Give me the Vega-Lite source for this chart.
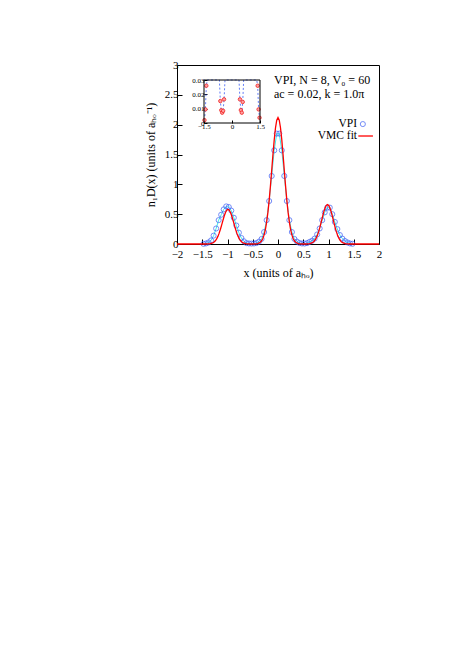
{
  "$schema": "https://vega.github.io/schema/vega-lite/v6.json",
  "width": 202,
  "height": 179,
  "autosize": "none",
  "padding": {"left": 177, "top": 65, "right": 84, "bottom": 412},
  "background": "white",
  "config": {
    "view": {"stroke": "black", "strokeWidth": 1},
    "font": "Liberation Serif",
    "axis": {"labelFont": "Liberation Serif", "titleFont": "Liberation Serif", "labelColor": "black", "titleColor": "black", "tickColor": "black", "titleFontWeight": "normal", "grid": false, "domain": false},
    "text": {"font": "Liberation Serif", "fontSize": 12, "color": "black"}
  },
  "datasets": {
    "vpi": [
      {"x": -1.475, "n": 0.002}, {"x": -1.425, "n": 0.0095}, {"x": -1.375, "n": 0.026}, {"x": -1.325, "n": 0.06},
      {"x": -1.275, "n": 0.14}, {"x": -1.225, "n": 0.26}, {"x": -1.175, "n": 0.40}, {"x": -1.125, "n": 0.49},
      {"x": -1.075, "n": 0.58}, {"x": -1.025, "n": 0.63}, {"x": -0.975, "n": 0.62}, {"x": -0.925, "n": 0.56},
      {"x": -0.875, "n": 0.44}, {"x": -0.825, "n": 0.31}, {"x": -0.775, "n": 0.19}, {"x": -0.725, "n": 0.10},
      {"x": -0.675, "n": 0.045}, {"x": -0.625, "n": 0.0153}, {"x": -0.575, "n": 0.0089}, {"x": -0.525, "n": 0.0072},
      {"x": -0.475, "n": 0.0085}, {"x": -0.425, "n": 0.0165}, {"x": -0.375, "n": 0.04}, {"x": -0.325, "n": 0.085},
      {"x": -0.275, "n": 0.20}, {"x": -0.225, "n": 0.40}, {"x": -0.175, "n": 0.72}, {"x": -0.125, "n": 1.14},
      {"x": -0.075, "n": 1.57}, {"x": -0.025, "n": 1.85}, {"x": 0.025, "n": 1.85}, {"x": 0.075, "n": 1.57},
      {"x": 0.125, "n": 1.14}, {"x": 0.175, "n": 0.72}, {"x": 0.225, "n": 0.40}, {"x": 0.275, "n": 0.20},
      {"x": 0.325, "n": 0.085}, {"x": 0.375, "n": 0.04}, {"x": 0.425, "n": 0.0165}, {"x": 0.475, "n": 0.009},
      {"x": 0.525, "n": 0.0072}, {"x": 0.575, "n": 0.0147}, {"x": 0.625, "n": 0.035}, {"x": 0.675, "n": 0.055},
      {"x": 0.725, "n": 0.09}, {"x": 0.775, "n": 0.16}, {"x": 0.825, "n": 0.26}, {"x": 0.875, "n": 0.40},
      {"x": 0.925, "n": 0.53}, {"x": 0.975, "n": 0.61}, {"x": 1.025, "n": 0.61}, {"x": 1.075, "n": 0.50},
      {"x": 1.125, "n": 0.37}, {"x": 1.175, "n": 0.25}, {"x": 1.225, "n": 0.15}, {"x": 1.275, "n": 0.09},
      {"x": 1.325, "n": 0.05}, {"x": 1.375, "n": 0.026}, {"x": 1.425, "n": 0.0095}, {"x": 1.475, "n": 0.0037}
    ],
    "vmc": [
      {"x": -2, "n": 0}, {"x": -1.6, "n": 0}, {"x": -1.5, "n": 0}, {"x": -1.44, "n": 0.0003}, {"x": -1.39, "n": 0.0014},
      {"x": -1.34, "n": 0.0057}, {"x": -1.29, "n": 0.0193}, {"x": -1.265, "n": 0.0332}, {"x": -1.24, "n": 0.0546},
      {"x": -1.215, "n": 0.0856}, {"x": -1.19, "n": 0.128}, {"x": -1.165, "n": 0.182}, {"x": -1.14, "n": 0.248},
      {"x": -1.115, "n": 0.321}, {"x": -1.09, "n": 0.397}, {"x": -1.065, "n": 0.469}, {"x": -1.04, "n": 0.528},
      {"x": -1.015, "n": 0.566}, {"x": -0.99, "n": 0.58}, {"x": -0.965, "n": 0.566}, {"x": -0.94, "n": 0.528},
      {"x": -0.915, "n": 0.469}, {"x": -0.89, "n": 0.397}, {"x": -0.865, "n": 0.321}, {"x": -0.84, "n": 0.248},
      {"x": -0.815, "n": 0.182}, {"x": -0.79, "n": 0.128}, {"x": -0.765, "n": 0.0856}, {"x": -0.74, "n": 0.0546},
      {"x": -0.715, "n": 0.0332}, {"x": -0.69, "n": 0.0193}, {"x": -0.64, "n": 0.0057}, {"x": -0.59, "n": 0.0014},
      {"x": -0.54, "n": 0.0003}, {"x": -0.45, "n": 0.002}, {"x": -0.4, "n": 0.008}, {"x": -0.35, "n": 0.030},
      {"x": -0.325, "n": 0.054}, {"x": -0.3, "n": 0.093}, {"x": -0.275, "n": 0.153}, {"x": -0.25, "n": 0.242},
      {"x": -0.225, "n": 0.366}, {"x": -0.2, "n": 0.529}, {"x": -0.175, "n": 0.732}, {"x": -0.15, "n": 0.971},
      {"x": -0.125, "n": 1.232}, {"x": -0.1, "n": 1.498}, {"x": -0.075, "n": 1.744}, {"x": -0.05, "n": 1.944},
      {"x": -0.025, "n": 2.074}, {"x": 0, "n": 2.12}, {"x": 0.025, "n": 2.074}, {"x": 0.05, "n": 1.944},
      {"x": 0.075, "n": 1.744}, {"x": 0.1, "n": 1.498}, {"x": 0.125, "n": 1.232}, {"x": 0.15, "n": 0.971},
      {"x": 0.175, "n": 0.732}, {"x": 0.2, "n": 0.529}, {"x": 0.225, "n": 0.366}, {"x": 0.25, "n": 0.242},
      {"x": 0.275, "n": 0.153}, {"x": 0.3, "n": 0.093}, {"x": 0.325, "n": 0.054}, {"x": 0.35, "n": 0.030},
      {"x": 0.4, "n": 0.008}, {"x": 0.45, "n": 0.002}, {"x": 0.53, "n": 0.0002}, {"x": 0.58, "n": 0.0016},
      {"x": 0.63, "n": 0.0064}, {"x": 0.68, "n": 0.022}, {"x": 0.705, "n": 0.0378}, {"x": 0.73, "n": 0.0621},
      {"x": 0.755, "n": 0.0974}, {"x": 0.78, "n": 0.145}, {"x": 0.805, "n": 0.207}, {"x": 0.83, "n": 0.282},
      {"x": 0.855, "n": 0.366}, {"x": 0.88, "n": 0.452}, {"x": 0.905, "n": 0.534}, {"x": 0.93, "n": 0.600},
      {"x": 0.955, "n": 0.645}, {"x": 0.98, "n": 0.66}, {"x": 1.005, "n": 0.645}, {"x": 1.03, "n": 0.600},
      {"x": 1.055, "n": 0.534}, {"x": 1.08, "n": 0.452}, {"x": 1.105, "n": 0.366}, {"x": 1.13, "n": 0.282},
      {"x": 1.155, "n": 0.207}, {"x": 1.18, "n": 0.145}, {"x": 1.205, "n": 0.0974}, {"x": 1.23, "n": 0.0621},
      {"x": 1.255, "n": 0.0378}, {"x": 1.28, "n": 0.022}, {"x": 1.33, "n": 0.0064}, {"x": 1.38, "n": 0.0016},
      {"x": 1.43, "n": 0.0002}, {"x": 1.5, "n": 0}, {"x": 1.6, "n": 0}, {"x": 2, "n": 0}
    ]
  },
  "layer": [
    {
      "encoding": {
        "x": {"type": "quantitative", "scale": {"domain": [-2, 2], "zero": false, "nice": false},
          "axis": {"values": [-2, -1.5, -1, -0.5, 0, 0.5, 1, 1.5, 2], "format": "~g", "tickSize": -5, "labelPadding": 9, "labelFontSize": 11, "labelOverlap": false, "labelFlush": false, "title": "x (units of aₕₒ)", "titleFontSize": 12, "titlePadding": 8}},
        "y": {"type": "quantitative", "scale": {"domain": [0, 3], "nice": false},
          "axis": {"values": [0, 0.5, 1, 1.5, 2, 2.5, 3], "format": "~g", "tickSize": -5, "labelPadding": 4, "labelFontSize": 11, "labelOverlap": false, "title": "n₁D(x) (units of aₕₒ⁻¹)", "titleFontSize": 12, "titlePadding": 7}}
      },
      "layer": [
        {
          "data": {"name": "vpi"},
          "mark": {"type": "line", "color": "#40e8e8", "strokeWidth": 1},
          "encoding": {"x": {"field": "x"}, "y": {"field": "n"}}
        },
        {
          "data": {"name": "vpi"},
          "mark": {"type": "point", "shape": "circle", "filled": false, "color": "#3a5cf5", "size": 26, "strokeWidth": 1},
          "encoding": {"x": {"field": "x"}, "y": {"field": "n"}}
        },
        {
          "data": {"name": "vmc"},
          "mark": {"type": "line", "color": "#ff0000", "strokeWidth": 1.3},
          "encoding": {"x": {"field": "x"}, "y": {"field": "n"}}
        },
        {
          "data": {"values": [{}]},
          "mark": {"type": "text", "align": "left", "baseline": "middle"},
          "encoding": {"x": {"datum": -0.08}, "y": {"datum": 2.75}, "text": {"value": "VPI, N = 8, V₀ = 60"}}
        },
        {
          "data": {"values": [{}]},
          "mark": {"type": "text", "align": "left", "baseline": "middle"},
          "encoding": {"x": {"datum": -0.08}, "y": {"datum": 2.51}, "text": {"value": "ac = 0.02, k = 1.0π"}}
        },
        {
          "data": {"values": [{}]},
          "mark": {"type": "text", "align": "right", "baseline": "middle", "fontSize": 11.5},
          "encoding": {"x": {"datum": 1.565}, "y": {"datum": 2.01}, "text": {"value": "VPI"}}
        },
        {
          "data": {"values": [{}]},
          "mark": {"type": "point", "shape": "circle", "filled": false, "color": "#3a5cf5", "size": 26, "strokeWidth": 1},
          "encoding": {"x": {"datum": 1.68}, "y": {"datum": 2.01}}
        },
        {
          "data": {"values": [{}]},
          "mark": {"type": "text", "align": "right", "baseline": "middle", "fontSize": 11.5},
          "encoding": {"x": {"datum": 1.565}, "y": {"datum": 1.81}, "text": {"value": "VMC fit"}}
        },
        {
          "data": {"values": [{}]},
          "mark": {"type": "rule", "color": "#ff0000", "strokeWidth": 1.3},
          "encoding": {"x": {"datum": 1.59}, "x2": {"datum": 1.88}, "y": {"datum": 1.81}}
        }
      ]
    },
    {
      "layer": [
        {
          "data": {"name": "vpi"},
          "mark": {"type": "line", "color": "#3a5cf5", "strokeWidth": 0.8, "strokeDash": [2, 2]},
          "encoding": {
            "x": {"field": "x", "type": "quantitative", "scale": {"domain": [-1.5, 1.5], "range": [27, 83], "zero": false, "nice": false, "clamp": true},
              "axis": {"orient": "bottom", "offset": -121, "values": [-1.5, 0, 1.5], "format": "~g", "tickSize": -3, "labelPadding": 2, "labelFontSize": 7, "labelOverlap": false, "labelFlush": false, "title": null}},
            "y": {"field": "n", "type": "quantitative", "scale": {"domain": [0, 0.03], "range": [58, 15], "nice": false, "clamp": true},
              "axis": {"orient": "left", "offset": -27, "values": [0, 0.01, 0.02, 0.03], "format": "~g", "tickSize": -3, "labelPadding": 3, "labelFontSize": 7, "labelOverlap": false, "title": null}}
          }
        },
        {
          "data": {"name": "vpi"},
          "transform": [{"filter": "datum.n <= 0.03"}],
          "mark": {"type": "point", "shape": "circle", "filled": true, "color": "#ffa0a0", "stroke": "#f02020", "strokeWidth": 0.8, "size": 12, "opacity": 1},
          "encoding": {"x": {"field": "x", "type": "quantitative"}, "y": {"field": "n", "type": "quantitative"}}
        },
        {
          "data": {"values": [{}]},
          "mark": {"type": "rect", "fill": null, "fillOpacity": 0, "stroke": "black", "strokeWidth": 1},
          "encoding": {"x": {"datum": -1.5}, "x2": {"datum": 1.5}, "y": {"datum": 0}, "y2": {"datum": 0.03}}
        }
      ]
    }
  ],
  "resolve": {"scale": {"x": "independent", "y": "independent"}, "axis": {"x": "independent", "y": "independent"}}
}
